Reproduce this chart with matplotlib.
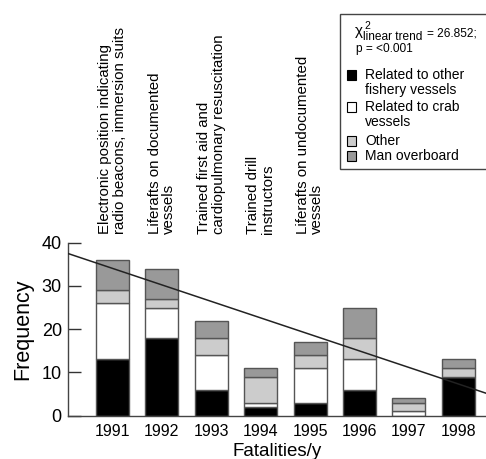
import matplotlib
matplotlib.use('Agg')
import matplotlib.pyplot as plt
from matplotlib.patches import Rectangle

plt.rcParams['font.family'] = ['Liberation Sans', 'DejaVu Sans']

years = ['1991', '1992', '1993', '1994', '1995', '1996', '1997', '1998']
other_fishery = [13, 18, 6, 2, 3, 6, 0, 9]
crab = [13, 7, 8, 1, 8, 7, 1, 0]
other = [3, 2, 4, 6, 3, 5, 2, 2]
overboard = [7, 7, 4, 2, 3, 7, 1, 2]

series_labels = ['Related to other\nfishery vessels', 'Related to crab\nvessels', 'Other', 'Man overboard']
series_colors = ['#000000', '#ffffff', '#cccccc', '#999999']

# trend line ends
trend_x = [-0.9, 7.56]
trend_y = [37.5, 5.2]

notes = ['Electronic position indicating\nradio beacons, immersion suits',
         'Liferafts on documented\nvessels',
         'Trained first aid and\ncardiopulmonary resuscitation',
         'Trained drill\ninstructors',
         'Liferafts on undocumented\nvessels']

fig = plt.figure(figsize=(4.86, 4.59), dpi=100)
ax = fig.add_axes([68 / 486, 43.3 / 459, 1 - 68 / 486, 173 / 459])

xs = list(range(len(years)))
bottom = [0] * len(years)
for vals, col in zip([other_fishery, crab, other, overboard], series_colors):
    ax.bar(xs, vals, 0.67, bottom=bottom, color=col, edgecolor='#555555', lw=1, zorder=2)
    bottom = [b + v for b, v in zip(bottom, vals)]

ax.plot(trend_x, trend_y, color='#222222', lw=1.1, zorder=3)

for i, t in enumerate(notes):
    ax.text(i, 42.0, t, rotation=90, ha='center', va='bottom', multialignment='left',
            fontsize=10.8, linespacing=1.05, clip_on=False)

ax.set_xlim(-0.9, 7.56)
ax.set_ylim(0, 40)
ax.set_yticks([0, 10, 20, 30, 40])
ax.set_xticks(xs)
ax.set_xticklabels(years)
ax.tick_params(axis='y', direction='in', length=9.5, width=1, color='#333333', labelsize=13, pad=4.5)
ax.tick_params(axis='x', length=0, labelsize=11.5, pad=6)
for s in ['top', 'right']:
    ax.spines[s].set_visible(False)
for s in ['left', 'bottom']:
    ax.spines[s].set_color('#444444')
    ax.spines[s].set_linewidth(1)
ax.set_xlabel('Fatalities/y', fontsize=13.5, labelpad=3)
ax.set_ylabel('Frequency', fontsize=15.5, labelpad=6)

# legend box with the trend test on top
fig.patches.append(Rectangle((340 / 486, 1 - 169 / 459), 200 / 486, 155 / 459,
                             transform=fig.transFigure, facecolor='white',
                             edgecolor='#444444', lw=1))
hdr = 8.6
fig.text(355 / 486, 1 - 35 / 459, '\u03c7', fontsize=11, va='baseline', ha='left')
fig.text(364 / 486, 1 - 29 / 459, '2', fontsize=7.5, va='baseline', ha='left')
fig.text(362.5 / 486, 1 - 40 / 459, 'linear trend', fontsize=hdr, va='baseline', ha='left')
fig.text(427 / 486, 1 - 36 / 459, '= 26.852;', fontsize=hdr, va='baseline', ha='left')
fig.text(356 / 486, 1 - 52 / 459, 'p = <0.001', fontsize=hdr, va='baseline', ha='left')

# legend entries, swatch level with the first line of each label
entry_y = [75, 107, 141, 156]
for lab, col, yy in zip(series_labels, series_colors, entry_y):
    fig.patches.append(Rectangle((347 / 486, 1 - (yy + 4.5) / 459), 9 / 486, 9 / 459,
                                 transform=fig.transFigure, facecolor=col,
                                 edgecolor='#000000', lw=0.8))
    fig.text(365 / 486, 1 - (yy - 7) / 459, lab, fontsize=10, va='top', ha='left',
             linespacing=1.05)

fig.savefig('out.png', dpi=100)
